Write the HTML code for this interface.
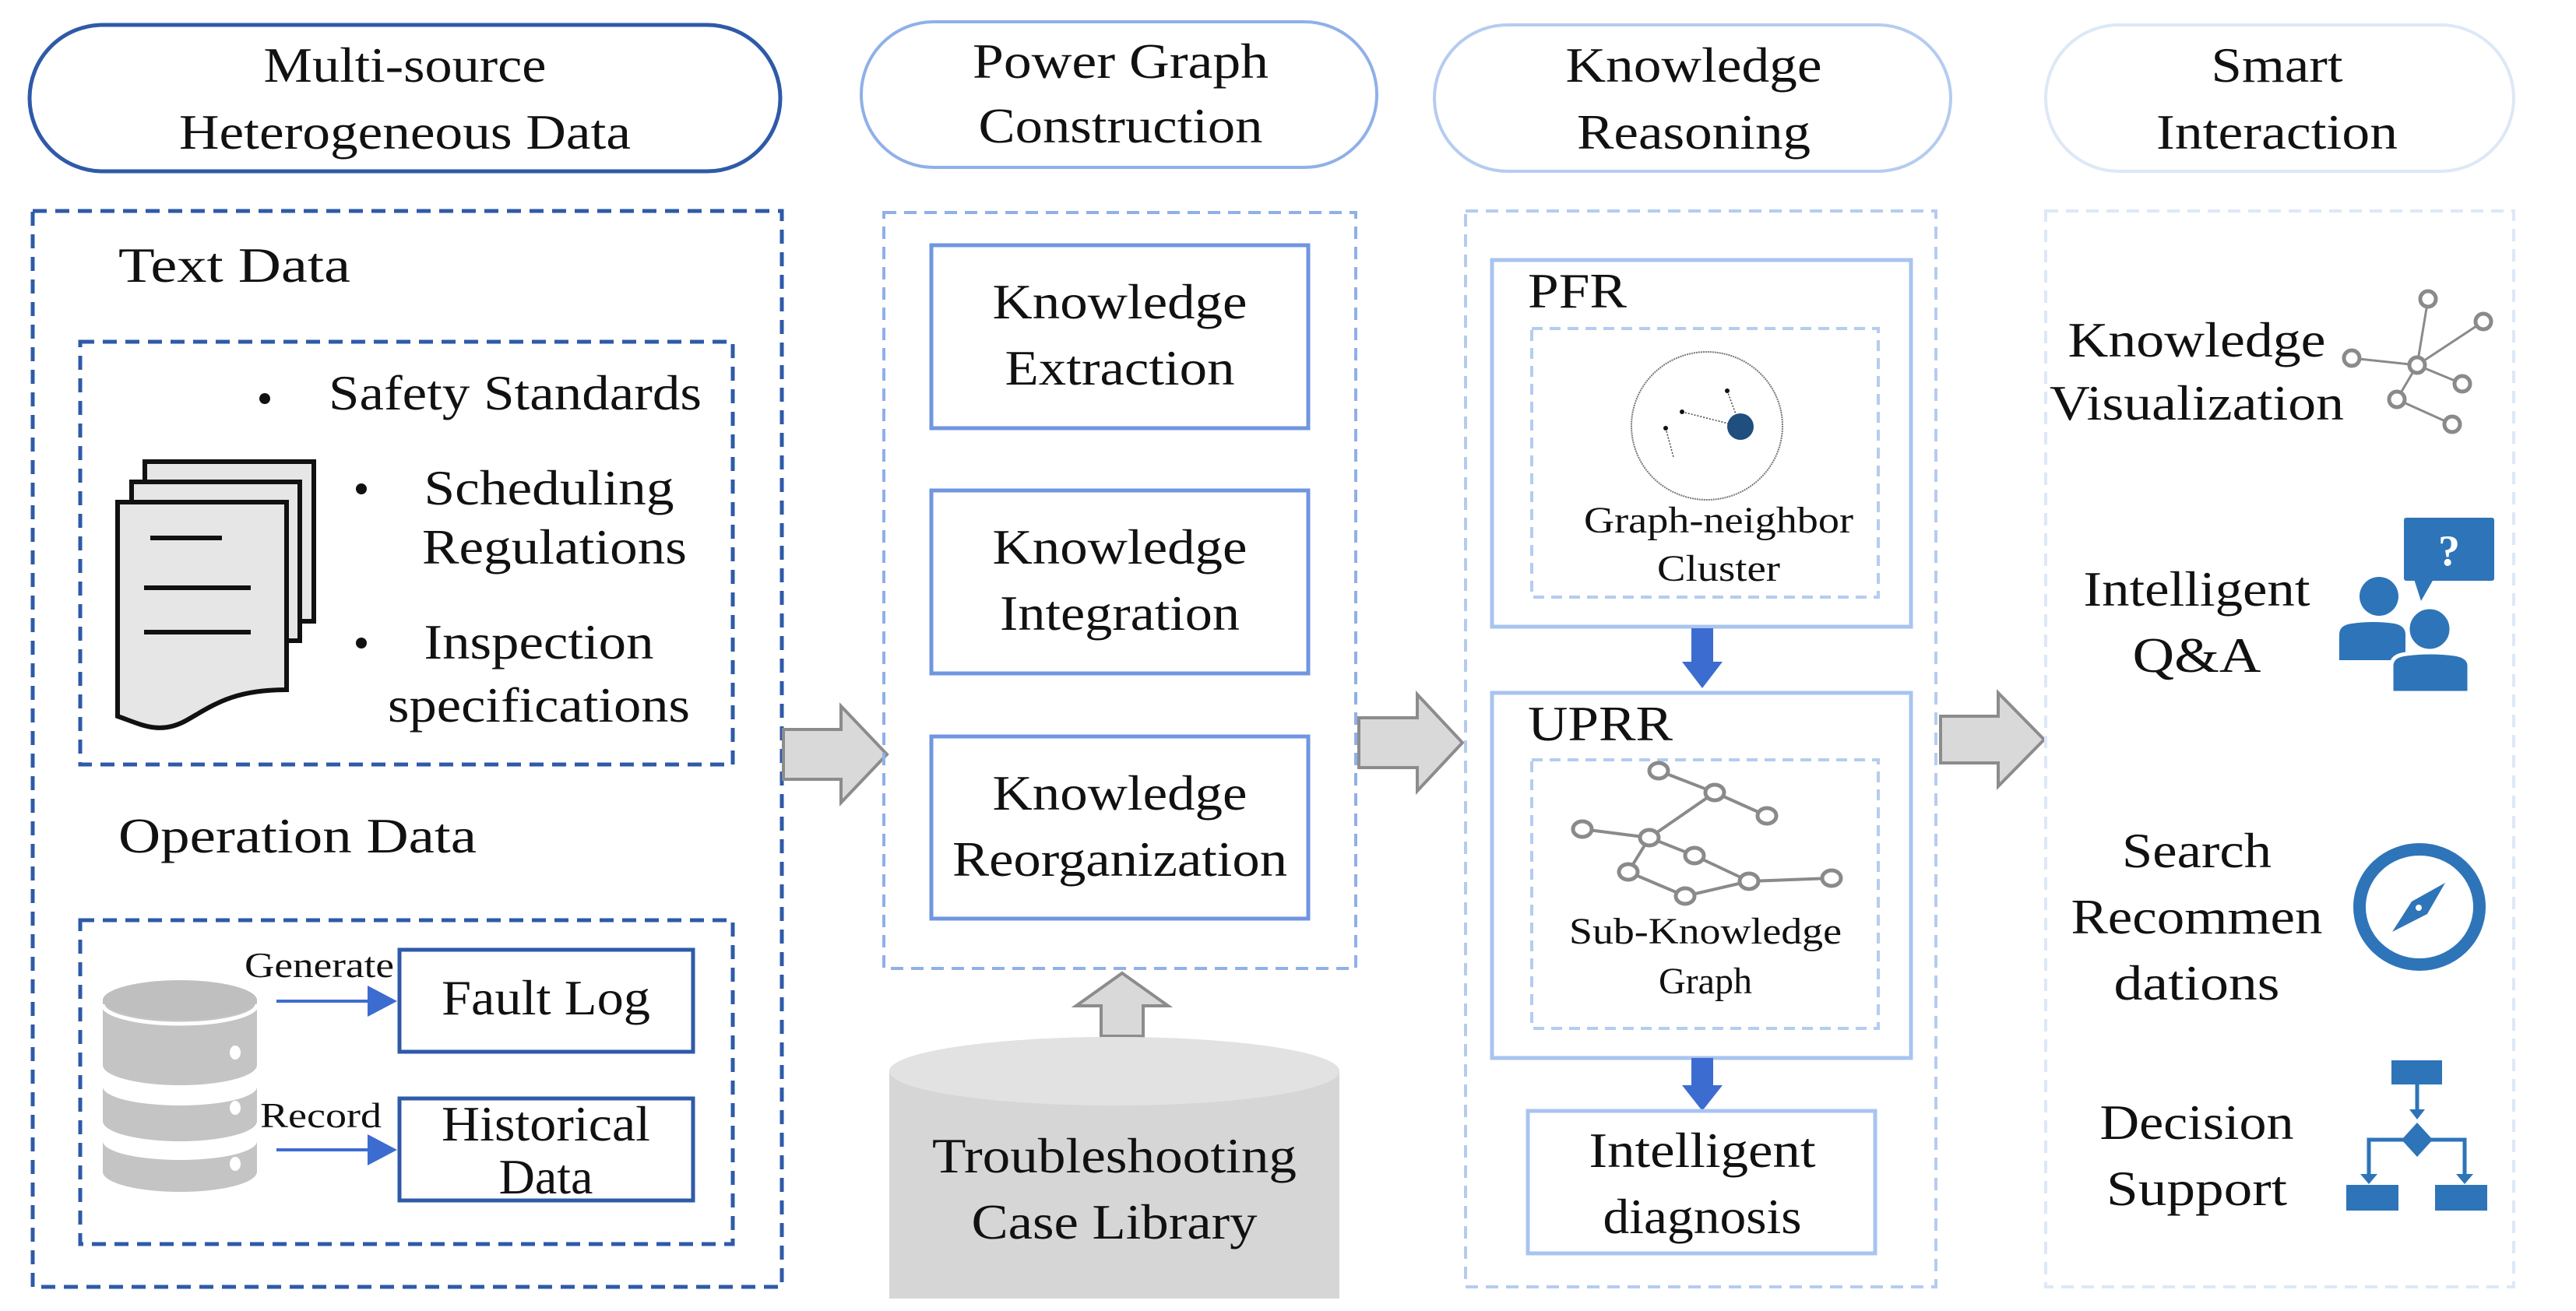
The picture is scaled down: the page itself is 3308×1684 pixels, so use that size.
<!DOCTYPE html>
<html><head><meta charset="utf-8"><style>
html,body{margin:0;padding:0;background:#fff;}
svg{display:block;}
text{font-family:"Liberation Serif",serif;fill:#111;transform:translateY(-7px);}
</style></head><body>
<svg width="3308" height="1684" viewBox="0 0 3308 1684" xmlns="http://www.w3.org/2000/svg">
<!-- ============ Column 1 ============ -->
<rect x="38" y="32" width="964" height="188" rx="94" ry="94" fill="#fff" stroke="#2e5aa8" stroke-width="5"/>
<text x="520" y="112" font-size="64" text-anchor="middle" textLength="363" lengthAdjust="spacingAndGlyphs">Multi-source</text>
<text x="520" y="198" font-size="64" text-anchor="middle" textLength="580" lengthAdjust="spacingAndGlyphs">Heterogeneous Data</text>

<rect x="42" y="271" width="962" height="1382" fill="none" stroke="#2e5aa8" stroke-width="5" stroke-dasharray="18,11"/>
<text x="152" y="369" font-size="64" textLength="298" lengthAdjust="spacingAndGlyphs">Text Data</text>
<rect x="103" y="439" width="838" height="543" fill="none" stroke="#2e5aa8" stroke-width="5" stroke-dasharray="18,11"/>

<!-- documents icon -->
<g stroke="#111" stroke-width="6" fill="#e6e6e6">
<rect x="186" y="593" width="217" height="205"/>
<rect x="169" y="619" width="216" height="204"/>
<path d="M151 645 H368 V886 C300 886 275 905 240 925 C205 945 180 930 151 920 Z"/>
</g>
<g stroke="#111" stroke-width="6">
<line x1="193" y1="691" x2="285" y2="691"/>
<line x1="185" y1="755" x2="322" y2="755"/>
<line x1="185" y1="812" x2="322" y2="812"/>
</g>

<circle cx="340" cy="512" r="7" fill="#111"/>
<text x="422" y="533" font-size="64" textLength="479" lengthAdjust="spacingAndGlyphs">Safety Standards</text>
<circle cx="464" cy="628" r="7" fill="#111"/>
<text x="705" y="655" font-size="64" text-anchor="middle" textLength="321" lengthAdjust="spacingAndGlyphs">Scheduling</text>
<text x="712" y="731" font-size="64" text-anchor="middle" textLength="340" lengthAdjust="spacingAndGlyphs">Regulations</text>
<circle cx="464" cy="826" r="7" fill="#111"/>
<text x="692" y="853" font-size="64" text-anchor="middle" textLength="295" lengthAdjust="spacingAndGlyphs">Inspection</text>
<text x="692" y="934" font-size="64" text-anchor="middle" textLength="388" lengthAdjust="spacingAndGlyphs">specifications</text>

<text x="152" y="1102" font-size="64" textLength="460" lengthAdjust="spacingAndGlyphs">Operation Data</text>
<rect x="103" y="1182" width="838" height="416" fill="none" stroke="#2e5aa8" stroke-width="5" stroke-dasharray="18,11"/>

<!-- database icon -->
<g fill="#c4c4c4">
<path d="M132 1285 A99 26 0 0 1 330 1285 V1368 A99 26 0 0 1 132 1368 Z"/>
<path d="M132 1396 A99 24 0 0 0 330 1396 V1440 A99 26 0 0 1 132 1440 Z"/>
<path d="M132 1466 A99 24 0 0 0 330 1466 V1505 A99 26 0 0 1 132 1505 Z"/>
</g>
<ellipse cx="231" cy="1285" rx="99" ry="25" fill="#bfbfbf"/>
<path d="M132 1290 A99 25 0 0 0 330 1290" fill="none" stroke="#fff" stroke-width="5"/>
<g fill="#fff">
<ellipse cx="302" cy="1352" rx="7" ry="9"/>
<ellipse cx="302" cy="1423" rx="7" ry="9"/>
<ellipse cx="302" cy="1495" rx="7" ry="9"/>
</g>

<text x="410" y="1262" font-size="46" text-anchor="middle" textLength="192" lengthAdjust="spacingAndGlyphs">Generate</text>
<line x1="355" y1="1286" x2="480" y2="1286" stroke="#3c6cd0" stroke-width="4"/>
<polygon points="472,1266 510,1286 472,1306" fill="#3c6cd0"/>
<text x="412" y="1455" font-size="46" text-anchor="middle" textLength="156" lengthAdjust="spacingAndGlyphs">Record</text>
<line x1="355" y1="1477" x2="480" y2="1477" stroke="#3c6cd0" stroke-width="4"/>
<polygon points="472,1457 510,1477 472,1497" fill="#3c6cd0"/>

<rect x="513" y="1220" width="377" height="131" fill="#fff" stroke="#2e5aa8" stroke-width="5"/>
<text x="701" y="1310" font-size="64" text-anchor="middle" textLength="268" lengthAdjust="spacingAndGlyphs">Fault Log</text>
<rect x="513" y="1411" width="377" height="131" fill="#fff" stroke="#2e5aa8" stroke-width="5"/>
<text x="701" y="1472" font-size="64" text-anchor="middle" textLength="268" lengthAdjust="spacingAndGlyphs">Historical</text>
<text x="701" y="1540" font-size="64" text-anchor="middle">Data</text>

<!-- big arrow 1 -->
<polygon points="1006,937 1080,937 1080,907 1139,969 1080,1031 1080,1001 1006,1001" fill="#d9d9d9" stroke="#8c8c8c" stroke-width="4"/>

<!-- ============ Column 2 ============ -->
<rect x="1106" y="28" width="662" height="187" rx="93" ry="93" fill="#fff" stroke="#8fb0e8" stroke-width="4"/>
<text x="1439" y="107" font-size="64" text-anchor="middle" textLength="380" lengthAdjust="spacingAndGlyphs">Power Graph</text>
<text x="1439" y="190" font-size="64" text-anchor="middle" textLength="365" lengthAdjust="spacingAndGlyphs">Construction</text>

<rect x="1135" y="273" width="606" height="971" fill="none" stroke="#8fb0e8" stroke-width="4" stroke-dasharray="16,10"/>
<g fill="#fff" stroke="#6f96e0" stroke-width="5">
<rect x="1196" y="315" width="484" height="235"/>
<rect x="1196" y="630" width="484" height="235"/>
<rect x="1196" y="946" width="484" height="234"/>
</g>
<text x="1438" y="416" font-size="64" text-anchor="middle" textLength="327" lengthAdjust="spacingAndGlyphs">Knowledge</text>
<text x="1438" y="501" font-size="64" text-anchor="middle" textLength="295" lengthAdjust="spacingAndGlyphs">Extraction</text>
<text x="1438" y="731" font-size="64" text-anchor="middle" textLength="327" lengthAdjust="spacingAndGlyphs">Knowledge</text>
<text x="1438" y="816" font-size="64" text-anchor="middle" textLength="308" lengthAdjust="spacingAndGlyphs">Integration</text>
<text x="1438" y="1047" font-size="64" text-anchor="middle" textLength="327" lengthAdjust="spacingAndGlyphs">Knowledge</text>
<text x="1438" y="1132" font-size="64" text-anchor="middle" textLength="430" lengthAdjust="spacingAndGlyphs">Reorganization</text>

<!-- up arrow -->
<polygon points="1441,1250 1500,1292 1468,1292 1468,1331 1414,1331 1414,1292 1382,1292" fill="#d9d9d9" stroke="#8c8c8c" stroke-width="4"/>
<!-- cylinder -->
<path d="M1142 1376 A289 44 0 0 1 1720 1376 V1668 H1142 Z" fill="#d6d6d6"/>
<ellipse cx="1431" cy="1376" rx="289" ry="44" fill="#e2e2e2"/>
<text x="1431" y="1513" font-size="64" text-anchor="middle" textLength="468" lengthAdjust="spacingAndGlyphs">Troubleshooting</text>
<text x="1431" y="1598" font-size="64" text-anchor="middle" textLength="367" lengthAdjust="spacingAndGlyphs">Case Library</text>

<!-- big arrow 2 -->
<polygon points="1745,922 1820,922 1820,892 1878,954 1820,1016 1820,986 1745,986" fill="#d9d9d9" stroke="#8c8c8c" stroke-width="4"/>

<!-- ============ Column 3 ============ -->
<rect x="1842" y="32" width="663" height="188" rx="94" ry="94" fill="#fff" stroke="#b5ccf0" stroke-width="4"/>
<text x="2175" y="112" font-size="64" text-anchor="middle" textLength="329" lengthAdjust="spacingAndGlyphs">Knowledge</text>
<text x="2175" y="198" font-size="64" text-anchor="middle" textLength="300" lengthAdjust="spacingAndGlyphs">Reasoning</text>

<rect x="1882" y="271" width="604" height="1382" fill="none" stroke="#b5ccf0" stroke-width="4" stroke-dasharray="16,10"/>

<rect x="1916" y="334" width="538" height="471" fill="#fff" stroke="#a8c4f0" stroke-width="5"/>
<text x="1962" y="402" font-size="64" textLength="127" lengthAdjust="spacingAndGlyphs">PFR</text>
<rect x="1967" y="422" width="445" height="345" fill="none" stroke="#b5ccf0" stroke-width="4" stroke-dasharray="14,9"/>
<ellipse cx="2192" cy="547" rx="97" ry="95" fill="none" stroke="#777" stroke-width="2" stroke-dasharray="2,1"/>
<g stroke="#444" stroke-width="1.5" stroke-dasharray="2,2">
<line x1="2160" y1="529" x2="2235" y2="548"/>
<line x1="2218" y1="502" x2="2235" y2="548"/>
<line x1="2139" y1="550" x2="2149" y2="587"/>
</g>
<circle cx="2235" cy="548" r="17" fill="#1f4e7f"/>
<circle cx="2218" cy="502" r="3" fill="#111"/>
<circle cx="2160" cy="529" r="3" fill="#111"/>
<circle cx="2139" cy="550" r="3" fill="#111"/>
<text x="2207" y="691" font-size="48" text-anchor="middle" textLength="346" lengthAdjust="spacingAndGlyphs">Graph-neighbor</text>
<text x="2207" y="753" font-size="48" text-anchor="middle" textLength="158" lengthAdjust="spacingAndGlyphs">Cluster</text>

<rect x="2172" y="807" width="28" height="48" fill="#3c6cd0"/>
<polygon points="2160,850 2212,850 2186,884" fill="#3c6cd0"/>

<rect x="1916" y="890" width="538" height="469" fill="#fff" stroke="#a8c4f0" stroke-width="5"/>
<text x="1962" y="958" font-size="64" textLength="186" lengthAdjust="spacingAndGlyphs">UPRR</text>
<rect x="1967" y="976" width="445" height="345" fill="none" stroke="#b5ccf0" stroke-width="4" stroke-dasharray="14,9"/>
<g stroke="#8a8a8a" stroke-width="4" fill="none">
<line x1="2130" y1="990" x2="2202" y2="1018"/>
<line x1="2202" y1="1018" x2="2269" y2="1048"/>
<line x1="2032" y1="1065" x2="2118" y2="1076"/>
<line x1="2118" y1="1076" x2="2202" y2="1018"/>
<line x1="2118" y1="1076" x2="2176" y2="1099"/>
<line x1="2176" y1="1099" x2="2246" y2="1132"/>
<line x1="2118" y1="1076" x2="2091" y2="1120"/>
<line x1="2091" y1="1120" x2="2164" y2="1151"/>
<line x1="2164" y1="1151" x2="2246" y2="1132"/>
<line x1="2246" y1="1132" x2="2352" y2="1128"/>
</g>
<g stroke="#8a8a8a" stroke-width="5" fill="#fff">
<ellipse cx="2130" cy="990" rx="12" ry="10"/>
<ellipse cx="2202" cy="1018" rx="12" ry="10"/>
<ellipse cx="2269" cy="1048" rx="12" ry="10"/>
<ellipse cx="2032" cy="1065" rx="12" ry="10"/>
<ellipse cx="2118" cy="1076" rx="12" ry="10"/>
<ellipse cx="2176" cy="1099" rx="12" ry="10"/>
<ellipse cx="2091" cy="1120" rx="12" ry="10"/>
<ellipse cx="2246" cy="1132" rx="12" ry="10"/>
<ellipse cx="2352" cy="1128" rx="12" ry="10"/>
<ellipse cx="2164" cy="1151" rx="12" ry="10"/>
</g>
<text x="2190" y="1219" font-size="48" text-anchor="middle" textLength="350" lengthAdjust="spacingAndGlyphs">Sub-Knowledge</text>
<text x="2190" y="1283" font-size="48" text-anchor="middle">Graph</text>

<rect x="2172" y="1359" width="28" height="38" fill="#3c6cd0"/>
<polygon points="2160,1394 2212,1394 2186,1427" fill="#3c6cd0"/>

<rect x="1962" y="1427" width="446" height="183" fill="#fff" stroke="#a8c4f0" stroke-width="5"/>
<text x="2186" y="1506" font-size="64" text-anchor="middle" textLength="291" lengthAdjust="spacingAndGlyphs">Intelligent</text>
<text x="2186" y="1591" font-size="64" text-anchor="middle" textLength="255" lengthAdjust="spacingAndGlyphs">diagnosis</text>

<!-- big arrow 3 -->
<polygon points="2492,920 2566,920 2566,890 2625,950 2566,1010 2566,980 2492,980" fill="#d9d9d9" stroke="#8c8c8c" stroke-width="4"/>

<!-- ============ Column 4 ============ -->
<rect x="2627" y="32" width="601" height="188" rx="94" ry="94" fill="#fff" stroke="#dde8f7" stroke-width="4"/>
<text x="2924" y="112" font-size="64" text-anchor="middle" textLength="169" lengthAdjust="spacingAndGlyphs">Smart</text>
<text x="2924" y="198" font-size="64" text-anchor="middle" textLength="310" lengthAdjust="spacingAndGlyphs">Interaction</text>

<rect x="2627" y="271" width="601" height="1382" fill="none" stroke="#dde8f7" stroke-width="4" stroke-dasharray="16,10"/>

<text x="2821" y="465" font-size="64" text-anchor="middle" textLength="331" lengthAdjust="spacingAndGlyphs">Knowledge</text>
<text x="2821" y="546" font-size="64" text-anchor="middle" textLength="378" lengthAdjust="spacingAndGlyphs">Visualization</text>
<g stroke="#8a8a8a" stroke-width="3">
<line x1="3104" y1="469" x2="3118" y2="384"/>
<line x1="3104" y1="469" x2="3189" y2="413"/>
<line x1="3104" y1="469" x2="3020" y2="460"/>
<line x1="3104" y1="469" x2="3162" y2="493"/>
<line x1="3104" y1="469" x2="3078" y2="513"/>
<line x1="3078" y1="513" x2="3149" y2="545"/>
</g>
<g stroke="#8a8a8a" stroke-width="5" fill="#fff">
<circle cx="3118" cy="384" r="10"/><circle cx="3189" cy="413" r="10"/><circle cx="3020" cy="460" r="10"/>
<circle cx="3104" cy="469" r="10"/><circle cx="3162" cy="493" r="10"/><circle cx="3078" cy="513" r="10"/><circle cx="3149" cy="545" r="10"/>
</g>

<text x="2821" y="785" font-size="64" text-anchor="middle" textLength="291" lengthAdjust="spacingAndGlyphs">Intelligent</text>
<text x="2821" y="870" font-size="64" text-anchor="middle" textLength="165" lengthAdjust="spacingAndGlyphs">Q&amp;A</text>
<g fill="#2e74b8">
<rect x="3087" y="665" width="116" height="81" rx="3"/>
<polygon points="3100,744 3125,744 3109,772"/>
<circle cx="3055" cy="766" r="25"/>
<path d="M3004 848 V815 Q3004 803 3020 801 Q3047 797 3075 801 Q3089 804 3089 815 V848 Z"/>
<circle cx="3120" cy="808" r="28" stroke="#fff" stroke-width="5"/>
<path d="M3071 890 V855 Q3071 842 3090 840 Q3121 836 3152 840 Q3171 843 3171 855 V890 Z" stroke="#fff" stroke-width="5"/>
</g>
<text x="3145" y="733" font-size="56" font-weight="bold" text-anchor="middle" style="fill:#fff">?</text>

<text x="2821" y="1121" font-size="64" text-anchor="middle" textLength="192" lengthAdjust="spacingAndGlyphs">Search</text>
<text x="2821" y="1206" font-size="64" text-anchor="middle" textLength="323" lengthAdjust="spacingAndGlyphs">Recommen</text>
<text x="2821" y="1291" font-size="64" text-anchor="middle" textLength="213" lengthAdjust="spacingAndGlyphs">dations</text>
<ellipse cx="3107" cy="1165" rx="77" ry="74" fill="none" stroke="#2e74b8" stroke-width="16"/>
<polygon points="3072,1197 3097,1158 3140,1134 3117,1174" fill="#2e74b8"/>
<circle cx="3106" cy="1166" r="4" fill="#fff"/>

<text x="2821" y="1470" font-size="64" text-anchor="middle" textLength="249" lengthAdjust="spacingAndGlyphs">Decision</text>
<text x="2821" y="1555" font-size="64" text-anchor="middle" textLength="232" lengthAdjust="spacingAndGlyphs">Support</text>
<g fill="#2e74b8" stroke="#2e74b8">
<rect x="3071" y="1362" width="65" height="31" stroke="none"/>
<line x1="3104" y1="1393" x2="3104" y2="1432" stroke-width="5"/>
<polygon points="3094,1425 3114,1425 3104,1438" stroke="none"/>
<polygon points="3104,1442 3124,1464 3104,1486 3084,1464" stroke="none"/>
<polyline points="3042,1515 3042,1464 3165,1464 3165,1515" fill="none" stroke-width="5"/>
<polygon points="3031,1508 3053,1508 3042,1521" stroke="none"/>
<polygon points="3154,1508 3176,1508 3165,1521" stroke="none"/>
<rect x="3013" y="1522" width="67" height="33" stroke="none"/>
<rect x="3127" y="1522" width="67" height="33" stroke="none"/>
</g>
</svg>
</body></html>
